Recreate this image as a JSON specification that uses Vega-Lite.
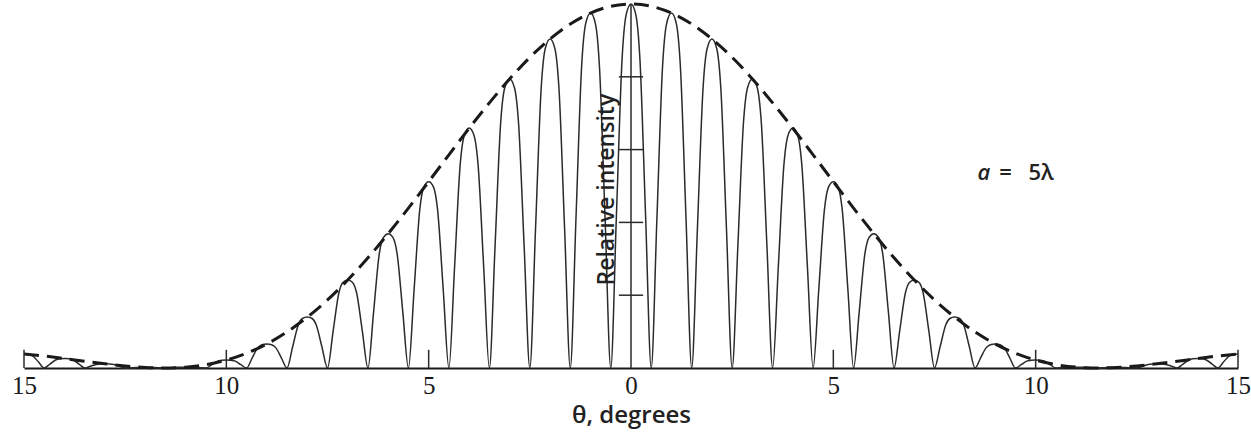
{
  "$schema": "https://vega.github.io/schema/vega-lite/v6.json",
  "width": 1214,
  "height": 364,
  "autosize": "none",
  "padding": {"left": 24, "top": 4, "right": 13, "bottom": 68},
  "background": "white",
  "config": {"view": {"stroke": null}},
  "datasets": {
    "pattern": [
      {"t": 0, "i": 1.0},
      {"t": 0.12, "i": 0.97}, {"t": 0.22, "i": 0.85}, {"t": 0.36, "i": 0.42}, {"t": 0.5, "i": 0},
      {"t": 0.64, "i": 0.41}, {"t": 0.78, "i": 0.829}, {"t": 0.88, "i": 0.946}, {"t": 1, "i": 0.975},
      {"t": 1.12, "i": 0.946}, {"t": 1.22, "i": 0.829}, {"t": 1.36, "i": 0.41}, {"t": 1.5, "i": 0},
      {"t": 1.64, "i": 0.38}, {"t": 1.78, "i": 0.768}, {"t": 1.88, "i": 0.877}, {"t": 2, "i": 0.904},
      {"t": 2.12, "i": 0.877}, {"t": 2.22, "i": 0.768}, {"t": 2.36, "i": 0.38}, {"t": 2.5, "i": 0},
      {"t": 2.64, "i": 0.333}, {"t": 2.78, "i": 0.675}, {"t": 2.88, "i": 0.77}, {"t": 3, "i": 0.794},
      {"t": 3.12, "i": 0.77}, {"t": 3.22, "i": 0.675}, {"t": 3.36, "i": 0.333}, {"t": 3.5, "i": 0},
      {"t": 3.64, "i": 0.277}, {"t": 3.78, "i": 0.56}, {"t": 3.88, "i": 0.639}, {"t": 4, "i": 0.659},
      {"t": 4.12, "i": 0.639}, {"t": 4.22, "i": 0.56}, {"t": 4.36, "i": 0.277}, {"t": 4.5, "i": 0},
      {"t": 4.64, "i": 0.215}, {"t": 4.78, "i": 0.435}, {"t": 4.88, "i": 0.497}, {"t": 5, "i": 0.512},
      {"t": 5.12, "i": 0.497}, {"t": 5.22, "i": 0.435}, {"t": 5.36, "i": 0.215}, {"t": 5.5, "i": 0},
      {"t": 5.64, "i": 0.155}, {"t": 5.78, "i": 0.314}, {"t": 5.88, "i": 0.358}, {"t": 6, "i": 0.369},
      {"t": 6.12, "i": 0.358}, {"t": 6.22, "i": 0.314}, {"t": 6.36, "i": 0.155}, {"t": 6.5, "i": 0},
      {"t": 6.64, "i": 0.102}, {"t": 6.78, "i": 0.206}, {"t": 6.88, "i": 0.235}, {"t": 7, "i": 0.242},
      {"t": 7.12, "i": 0.235}, {"t": 7.22, "i": 0.206}, {"t": 7.36, "i": 0.102}, {"t": 7.5, "i": 0},
      {"t": 7.64, "i": 0.059}, {"t": 7.78, "i": 0.119}, {"t": 7.88, "i": 0.136}, {"t": 8, "i": 0.14},
      {"t": 8.12, "i": 0.136}, {"t": 8.22, "i": 0.119}, {"t": 8.36, "i": 0.059}, {"t": 8.5, "i": 0},
      {"t": 8.64, "i": 0.028}, {"t": 8.78, "i": 0.056}, {"t": 8.88, "i": 0.064}, {"t": 9, "i": 0.066},
      {"t": 9.12, "i": 0.064}, {"t": 9.22, "i": 0.056}, {"t": 9.36, "i": 0.028}, {"t": 9.5, "i": 0},
      {"t": 9.64, "i": 0.009}, {"t": 9.78, "i": 0.019}, {"t": 9.88, "i": 0.021}, {"t": 10, "i": 0.022},
      {"t": 10.12, "i": 0.021}, {"t": 10.22, "i": 0.019}, {"t": 10.36, "i": 0.009}, {"t": 10.5, "i": 0},
      {"t": 10.64, "i": 0.001}, {"t": 10.78, "i": 0.002}, {"t": 10.88, "i": 0.0022}, {"t": 11, "i": 0.0023},
      {"t": 11.12, "i": 0.0022}, {"t": 11.22, "i": 0.002}, {"t": 11.36, "i": 0.001}, {"t": 11.5, "i": 0},
      {"t": 11.64, "i": 0.0006}, {"t": 11.78, "i": 0.0012}, {"t": 11.88, "i": 0.0014}, {"t": 12, "i": 0.0014},
      {"t": 12.12, "i": 0.0014}, {"t": 12.22, "i": 0.0012}, {"t": 12.36, "i": 0.0006}, {"t": 12.5, "i": 0},
      {"t": 12.64, "i": 0.0049}, {"t": 12.78, "i": 0.0099}, {"t": 12.88, "i": 0.0113}, {"t": 13, "i": 0.0116},
      {"t": 13.12, "i": 0.0113}, {"t": 13.22, "i": 0.0099}, {"t": 13.36, "i": 0.0049}, {"t": 13.5, "i": 0},
      {"t": 13.64, "i": 0.0109}, {"t": 13.78, "i": 0.022}, {"t": 13.88, "i": 0.0251}, {"t": 14, "i": 0.0259},
      {"t": 14.12, "i": 0.0251}, {"t": 14.22, "i": 0.022}, {"t": 14.36, "i": 0.0109}, {"t": 14.5, "i": 0},
      {"t": 14.64, "i": 0.0162}, {"t": 14.78, "i": 0.0328}, {"t": 14.88, "i": 0.0374}, {"t": 15, "i": 0.0386},
      {"t": -0.12, "i": 0.97}, {"t": -0.22, "i": 0.85}, {"t": -0.36, "i": 0.42}, {"t": -0.5, "i": 0},
      {"t": -0.64, "i": 0.41}, {"t": -0.78, "i": 0.829}, {"t": -0.88, "i": 0.946}, {"t": -1, "i": 0.975},
      {"t": -1.12, "i": 0.946}, {"t": -1.22, "i": 0.829}, {"t": -1.36, "i": 0.41}, {"t": -1.5, "i": 0},
      {"t": -1.64, "i": 0.38}, {"t": -1.78, "i": 0.768}, {"t": -1.88, "i": 0.877}, {"t": -2, "i": 0.904},
      {"t": -2.12, "i": 0.877}, {"t": -2.22, "i": 0.768}, {"t": -2.36, "i": 0.38}, {"t": -2.5, "i": 0},
      {"t": -2.64, "i": 0.333}, {"t": -2.78, "i": 0.675}, {"t": -2.88, "i": 0.77}, {"t": -3, "i": 0.794},
      {"t": -3.12, "i": 0.77}, {"t": -3.22, "i": 0.675}, {"t": -3.36, "i": 0.333}, {"t": -3.5, "i": 0},
      {"t": -3.64, "i": 0.277}, {"t": -3.78, "i": 0.56}, {"t": -3.88, "i": 0.639}, {"t": -4, "i": 0.659},
      {"t": -4.12, "i": 0.639}, {"t": -4.22, "i": 0.56}, {"t": -4.36, "i": 0.277}, {"t": -4.5, "i": 0},
      {"t": -4.64, "i": 0.215}, {"t": -4.78, "i": 0.435}, {"t": -4.88, "i": 0.497}, {"t": -5, "i": 0.512},
      {"t": -5.12, "i": 0.497}, {"t": -5.22, "i": 0.435}, {"t": -5.36, "i": 0.215}, {"t": -5.5, "i": 0},
      {"t": -5.64, "i": 0.155}, {"t": -5.78, "i": 0.314}, {"t": -5.88, "i": 0.358}, {"t": -6, "i": 0.369},
      {"t": -6.12, "i": 0.358}, {"t": -6.22, "i": 0.314}, {"t": -6.36, "i": 0.155}, {"t": -6.5, "i": 0},
      {"t": -6.64, "i": 0.102}, {"t": -6.78, "i": 0.206}, {"t": -6.88, "i": 0.235}, {"t": -7, "i": 0.242},
      {"t": -7.12, "i": 0.235}, {"t": -7.22, "i": 0.206}, {"t": -7.36, "i": 0.102}, {"t": -7.5, "i": 0},
      {"t": -7.64, "i": 0.059}, {"t": -7.78, "i": 0.119}, {"t": -7.88, "i": 0.136}, {"t": -8, "i": 0.14},
      {"t": -8.12, "i": 0.136}, {"t": -8.22, "i": 0.119}, {"t": -8.36, "i": 0.059}, {"t": -8.5, "i": 0},
      {"t": -8.64, "i": 0.028}, {"t": -8.78, "i": 0.056}, {"t": -8.88, "i": 0.064}, {"t": -9, "i": 0.066},
      {"t": -9.12, "i": 0.064}, {"t": -9.22, "i": 0.056}, {"t": -9.36, "i": 0.028}, {"t": -9.5, "i": 0},
      {"t": -9.64, "i": 0.009}, {"t": -9.78, "i": 0.019}, {"t": -9.88, "i": 0.021}, {"t": -10, "i": 0.022},
      {"t": -10.12, "i": 0.021}, {"t": -10.22, "i": 0.019}, {"t": -10.36, "i": 0.009}, {"t": -10.5, "i": 0},
      {"t": -10.64, "i": 0.001}, {"t": -10.78, "i": 0.002}, {"t": -10.88, "i": 0.0022}, {"t": -11, "i": 0.0023},
      {"t": -11.12, "i": 0.0022}, {"t": -11.22, "i": 0.002}, {"t": -11.36, "i": 0.001}, {"t": -11.5, "i": 0},
      {"t": -11.64, "i": 0.0006}, {"t": -11.78, "i": 0.0012}, {"t": -11.88, "i": 0.0014}, {"t": -12, "i": 0.0014},
      {"t": -12.12, "i": 0.0014}, {"t": -12.22, "i": 0.0012}, {"t": -12.36, "i": 0.0006}, {"t": -12.5, "i": 0},
      {"t": -12.64, "i": 0.0049}, {"t": -12.78, "i": 0.0099}, {"t": -12.88, "i": 0.0113}, {"t": -13, "i": 0.0116},
      {"t": -13.12, "i": 0.0113}, {"t": -13.22, "i": 0.0099}, {"t": -13.36, "i": 0.0049}, {"t": -13.5, "i": 0},
      {"t": -13.64, "i": 0.0109}, {"t": -13.78, "i": 0.022}, {"t": -13.88, "i": 0.0251}, {"t": -14, "i": 0.0259},
      {"t": -14.12, "i": 0.0251}, {"t": -14.22, "i": 0.022}, {"t": -14.36, "i": 0.0109}, {"t": -14.5, "i": 0},
      {"t": -14.64, "i": 0.0162}, {"t": -14.78, "i": 0.0328}, {"t": -14.88, "i": 0.0374}, {"t": -15, "i": 0.0386}
    ],
    "envelope": [
      {"t": -15, "e": 0.0386}, {"t": -14.5, "e": 0.0329}, {"t": -14, "e": 0.0259}, {"t": -13.5, "e": 0.0186},
      {"t": -13, "e": 0.0116}, {"t": -12.5, "e": 0.0057}, {"t": -12, "e": 0.0014}, {"t": -11.5, "e": 0.0},
      {"t": -11, "e": 0.0023}, {"t": -10.5, "e": 0.0093}, {"t": -10, "e": 0.0217}, {"t": -9.5, "e": 0.0406},
      {"t": -9, "e": 0.0659}, {"t": -8.5, "e": 0.0992}, {"t": -8, "e": 0.1397}, {"t": -7.5, "e": 0.1871},
      {"t": -7, "e": 0.2419}, {"t": -6.5, "e": 0.3027}, {"t": -6, "e": 0.3691}, {"t": -5.5, "e": 0.4393},
      {"t": -5, "e": 0.512}, {"t": -4.5, "e": 0.5857}, {"t": -4, "e": 0.6586}, {"t": -3.5, "e": 0.7284},
      {"t": -3, "e": 0.7942}, {"t": -2.5, "e": 0.8533}, {"t": -2, "e": 0.9039}, {"t": -1.5, "e": 0.9449},
      {"t": -1, "e": 0.9752}, {"t": -0.5, "e": 0.9938}, {"t": 0, "e": 1.0},
      {"t": 0.5, "e": 0.9938}, {"t": 1, "e": 0.9752}, {"t": 1.5, "e": 0.9449}, {"t": 2, "e": 0.9039},
      {"t": 2.5, "e": 0.8533}, {"t": 3, "e": 0.7942}, {"t": 3.5, "e": 0.7284}, {"t": 4, "e": 0.6586},
      {"t": 4.5, "e": 0.5857}, {"t": 5, "e": 0.512}, {"t": 5.5, "e": 0.4393}, {"t": 6, "e": 0.3691},
      {"t": 6.5, "e": 0.3027}, {"t": 7, "e": 0.2419}, {"t": 7.5, "e": 0.1871}, {"t": 8, "e": 0.1397},
      {"t": 8.5, "e": 0.0992}, {"t": 9, "e": 0.0659}, {"t": 9.5, "e": 0.0406}, {"t": 10, "e": 0.0217},
      {"t": 10.5, "e": 0.0093}, {"t": 11, "e": 0.0023}, {"t": 11.5, "e": 0.0}, {"t": 12, "e": 0.0014},
      {"t": 12.5, "e": 0.0057}, {"t": 13, "e": 0.0116}, {"t": 13.5, "e": 0.0186}, {"t": 14, "e": 0.0259},
      {"t": 14.5, "e": 0.0329}, {"t": 15, "e": 0.0386}
    ],
    "yaxis": [{"x": 0, "y1": 0, "y2": 1}],
    "yticks": [
      {"x1": -0.3, "x2": 0.3, "y": 0.2}, {"x1": -0.3, "x2": 0.3, "y": 0.4},
      {"x1": -0.3, "x2": 0.3, "y": 0.6}, {"x1": -0.3, "x2": 0.3, "y": 0.8}
    ],
    "xticks": [
      {"t": -15, "y1": 0, "y2": 0.05}, {"t": -10, "y1": 0, "y2": 0.05}, {"t": -5, "y1": 0, "y2": 0.05},
      {"t": 5, "y1": 0, "y2": 0.05}, {"t": 10, "y1": 0, "y2": 0.05}, {"t": 15, "y1": 0, "y2": 0.05}
    ],
    "labels": [{"t": 0, "y": 0.49, "txt": "Relative intensity"}],
    "notevar": [{"t": 8.72, "y": 0.536, "txt": "a"}],
    "noterest": [{"t": 9.1, "y": 0.536, "txt": "=\u2002 5λ"}]
  },
  "layer": [
    {
      "data": {"name": "pattern"},
      "mark": {"type": "line", "interpolate": "monotone", "stroke": "#2b2b2b", "strokeWidth": 1.5},
      "encoding": {
        "x": {
          "field": "t", "type": "quantitative",
          "scale": {"domain": [-15, 15], "nice": false, "zero": false},
          "axis": {
            "values": [-15, -10, -5, 0, 5, 10, 15],
            "labelExpr": "'' + abs(datum.value)",
            "ticks": false, "grid": false,
            "domainColor": "#1a1a1a", "domainWidth": 2,
            "labelFont": "Liberation Serif", "labelFontSize": 25, "labelColor": "#1a1a1a",
            "labelPadding": 5, "labelFlush": false,
            "title": "θ, degrees", "titleFont": "Open Sans", "titleFontSize": 24,
            "titleFontWeight": 600, "titleColor": "#222222", "titlePadding": 5
          }
        },
        "y": {"field": "i", "type": "quantitative", "scale": {"domain": [0, 1], "nice": false}, "axis": null}
      }
    },
    {
      "data": {"name": "envelope"},
      "mark": {"type": "line", "interpolate": "monotone", "stroke": "#1a1a1a", "strokeWidth": 3, "strokeDash": [15, 8]},
      "encoding": {
        "x": {"field": "t", "type": "quantitative"},
        "y": {"field": "e", "type": "quantitative"}
      }
    },
    {
      "data": {"name": "yaxis"},
      "mark": {"type": "rule", "stroke": "#2b2b2b", "strokeWidth": 1.5},
      "encoding": {
        "x": {"field": "x", "type": "quantitative"},
        "y": {"field": "y1", "type": "quantitative"},
        "y2": {"field": "y2"}
      }
    },
    {
      "data": {"name": "yticks"},
      "mark": {"type": "rule", "stroke": "#2b2b2b", "strokeWidth": 1.5},
      "encoding": {
        "x": {"field": "x1", "type": "quantitative"},
        "x2": {"field": "x2"},
        "y": {"field": "y", "type": "quantitative"}
      }
    },
    {
      "data": {"name": "xticks"},
      "mark": {"type": "rule", "stroke": "#2b2b2b", "strokeWidth": 1.5},
      "encoding": {
        "x": {"field": "t", "type": "quantitative"},
        "y": {"field": "y1", "type": "quantitative"},
        "y2": {"field": "y2"}
      }
    },
    {
      "data": {"name": "labels"},
      "mark": {"type": "text", "angle": 270, "align": "center", "baseline": "alphabetic", "dy": -17, "font": "Open Sans", "fontSize": 23, "fontWeight": 600, "fill": "#222222"},
      "encoding": {
        "x": {"field": "t", "type": "quantitative"},
        "y": {"field": "y", "type": "quantitative"},
        "text": {"field": "txt"}
      }
    },
    {
      "data": {"name": "notevar"},
      "mark": {"type": "text", "align": "center", "baseline": "middle", "font": "Open Sans", "fontSize": 22, "fontStyle": "italic", "fontWeight": 600, "fill": "#222222"},
      "encoding": {
        "x": {"field": "t", "type": "quantitative"},
        "y": {"field": "y", "type": "quantitative"},
        "text": {"field": "txt"}
      }
    },
    {
      "data": {"name": "noterest"},
      "mark": {"type": "text", "align": "left", "baseline": "middle", "font": "Open Sans", "fontSize": 22, "fontWeight": 600, "fill": "#222222"},
      "encoding": {
        "x": {"field": "t", "type": "quantitative"},
        "y": {"field": "y", "type": "quantitative"},
        "text": {"field": "txt"}
      }
    }
  ]
}
